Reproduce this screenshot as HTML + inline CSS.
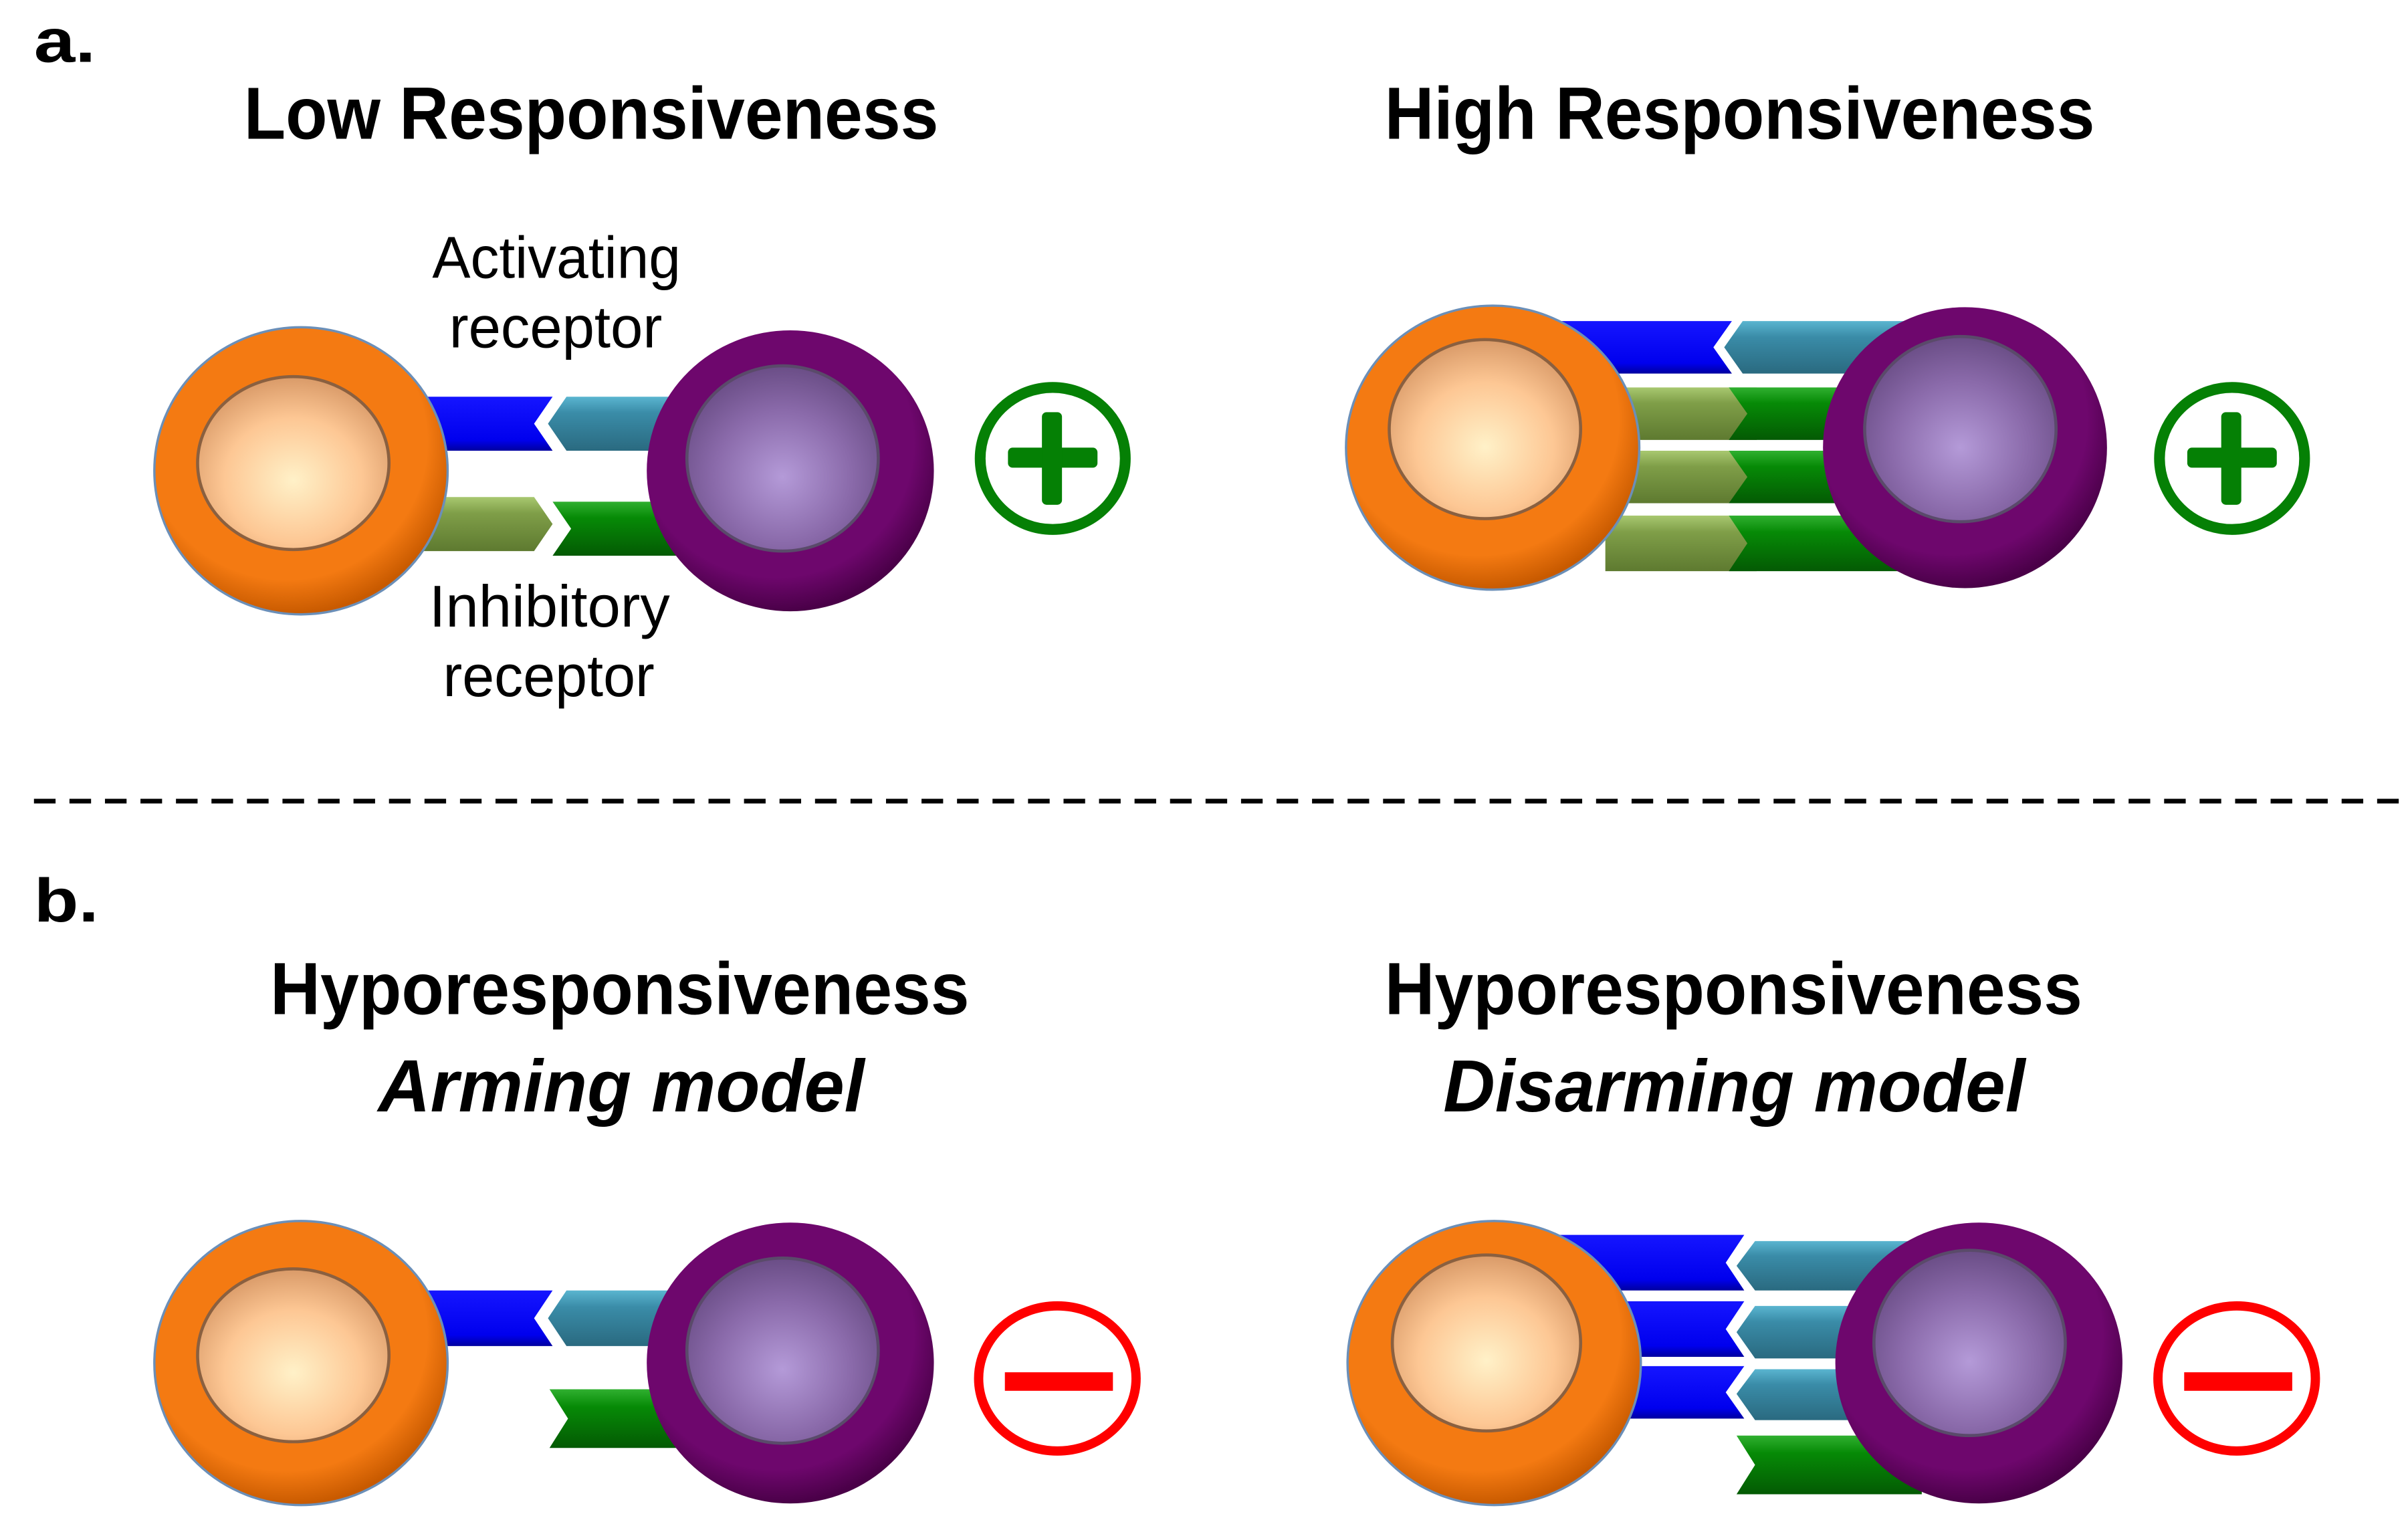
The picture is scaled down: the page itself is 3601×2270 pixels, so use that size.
<!DOCTYPE html>
<html><head><meta charset="utf-8"><style>html,body{margin:0;padding:0;background:#fff}svg{display:block}</style></head>
<body>
<svg width="3601" height="2270" viewBox="0 0 1560 983.4" preserveAspectRatio="none" xmlns="http://www.w3.org/2000/svg">
<defs>
<radialGradient id="og" cx="0.45" cy="0.4" r="0.6"><stop offset="0.8" stop-color="#f47a12"/><stop offset="1" stop-color="#c85a00"/></radialGradient>
<radialGradient id="oi" cx="0.5" cy="0.6" r="0.6"><stop offset="0" stop-color="#fff1c8"/><stop offset="0.6" stop-color="#fdc794"/><stop offset="1" stop-color="#d99a68"/></radialGradient>
<radialGradient id="pg" cx="0.45" cy="0.4" r="0.6"><stop offset="0.8" stop-color="#6e076d"/><stop offset="1" stop-color="#4a0048"/></radialGradient>
<radialGradient id="pi" cx="0.5" cy="0.6" r="0.6"><stop offset="0" stop-color="#b49ad8"/><stop offset="0.6" stop-color="#8a6aaa"/><stop offset="1" stop-color="#6a4d86"/></radialGradient>
<linearGradient id="bl" x1="0" y1="0" x2="0" y2="1"><stop offset="0" stop-color="#1515ff"/><stop offset="0.8" stop-color="#0000ee"/><stop offset="1" stop-color="#0000a0"/></linearGradient>
<linearGradient id="cy" x1="0" y1="0" x2="0" y2="1"><stop offset="0" stop-color="#5ab5d0"/><stop offset="0.3" stop-color="#3a8ca8"/><stop offset="1" stop-color="#2a6a80"/></linearGradient>
<linearGradient id="ol" x1="0" y1="0" x2="0" y2="1"><stop offset="0" stop-color="#a8c870"/><stop offset="0.3" stop-color="#7f9e48"/><stop offset="1" stop-color="#5e7a30"/></linearGradient>
<linearGradient id="gr" x1="0" y1="0" x2="0" y2="1"><stop offset="0" stop-color="#30b030"/><stop offset="0.3" stop-color="#068a06"/><stop offset="1" stop-color="#045a04"/></linearGradient>
</defs>
<g font-family="'Liberation Sans', sans-serif" fill="#000">
<text x="22" y="40" font-size="40" font-weight="bold" textLength="40" lengthAdjust="spacingAndGlyphs">a.</text>
<text x="22" y="597" font-size="40" font-weight="bold" textLength="42" lengthAdjust="spacingAndGlyphs">b.</text>
<text x="158" y="90" font-size="48" font-weight="bold" textLength="450" lengthAdjust="spacingAndGlyphs">Low Responsiveness</text>
<text x="897" y="90" font-size="48" font-weight="bold" textLength="460" lengthAdjust="spacingAndGlyphs">High Responsiveness</text>
<text x="175" y="657" font-size="48" font-weight="bold" textLength="453" lengthAdjust="spacingAndGlyphs">Hyporesponsiveness</text>
<text x="897" y="657" font-size="48" font-weight="bold" textLength="452" lengthAdjust="spacingAndGlyphs">Hyporesponsiveness</text>
<text x="245" y="720" font-size="48" font-weight="bold" font-style="italic" textLength="315" lengthAdjust="spacingAndGlyphs">Arming model</text>
<text x="935" y="720" font-size="48" font-weight="bold" font-style="italic" textLength="377" lengthAdjust="spacingAndGlyphs">Disarming model</text>
<text x="280" y="180" font-size="38" textLength="161" lengthAdjust="spacingAndGlyphs">Activating</text>
<text x="291" y="225" font-size="38" textLength="138" lengthAdjust="spacingAndGlyphs">receptor</text>
<text x="278" y="406" font-size="38" textLength="156" lengthAdjust="spacingAndGlyphs">Inhibitory</text>
<text x="287" y="451" font-size="38" textLength="137" lengthAdjust="spacingAndGlyphs">receptor</text>
</g>
<line x1="22" y1="519" x2="1556" y2="519" stroke="#000" stroke-width="3" stroke-dasharray="14,9"/>

<!-- Panel a left -->
<polygon points="270,257 358,257 346,274.5 358,292 270,292" fill="url(#bl)"/>
<polygon points="367,257 440,257 440,292 367,292 355,274.5" fill="url(#cy)"/>
<polygon points="270,322 346,322 358,339.5 346,357 270,357" fill="url(#ol)"/>
<polygon points="358,325 440,325 440,360 358,360 370,342.5" fill="url(#gr)"/>
<ellipse cx="195" cy="305" rx="95" ry="93" fill="url(#og)" stroke="#6b8fb8" stroke-width="1.5"/>
<ellipse cx="190" cy="300" rx="62" ry="56" fill="url(#oi)" stroke="#8a6040" stroke-width="2"/>
<ellipse cx="512" cy="305" rx="93" ry="91" fill="url(#pg)"/>
<ellipse cx="507" cy="297" rx="62" ry="60" fill="url(#pi)" stroke="#5a4a6a" stroke-width="2"/>
<ellipse cx="682" cy="297" rx="47" ry="46" fill="none" stroke="#058005" stroke-width="7"/>
<rect x="653" y="290" width="58" height="13" rx="3" fill="#058005"/>
<rect x="675" y="267" width="13" height="60" rx="3" fill="#058005"/>

<!-- Panel a right -->
<polygon points="1000,208 1122,208 1110,225 1122,242 1000,242" fill="url(#bl)"/>
<polygon points="1129,208 1245,208 1245,242 1129,242 1117,225" fill="url(#cy)"/>
<polygon points="1040,251 1138,251 1150,268 1138,285 1040,285" fill="url(#ol)"/>
<polygon points="1040,292 1138,292 1150,309 1138,326 1040,326" fill="url(#ol)"/>
<polygon points="1040,334 1138,334 1150,352 1138,370 1040,370" fill="url(#ol)"/>
<polygon points="1120,251 1240,251 1240,285 1120,285 1132,268" fill="url(#gr)"/>
<polygon points="1120,292 1240,292 1240,326 1120,326 1132,309" fill="url(#gr)"/>
<polygon points="1120,334 1240,334 1240,370 1120,370 1132,352" fill="url(#gr)"/>
<ellipse cx="967" cy="290" rx="95" ry="92" fill="url(#og)" stroke="#6b8fb8" stroke-width="1.5"/>
<ellipse cx="962" cy="278" rx="62" ry="58" fill="url(#oi)" stroke="#8a6040" stroke-width="2"/>
<ellipse cx="1273" cy="290" rx="92" ry="91" fill="url(#pg)"/>
<ellipse cx="1270" cy="278" rx="62" ry="60" fill="url(#pi)" stroke="#5a4a6a" stroke-width="2"/>
<ellipse cx="1446" cy="297" rx="47" ry="46" fill="none" stroke="#058005" stroke-width="7"/>
<rect x="1417" y="290" width="58" height="13" rx="3" fill="#058005"/>
<rect x="1439" y="267" width="13" height="60" rx="3" fill="#058005"/>

<!-- Panel b left -->
<polygon points="270,836 358,836 346,854 358,872 270,872" fill="url(#bl)"/>
<polygon points="367,836 440,836 440,872 367,872 355,854" fill="url(#cy)"/>
<polygon points="356,900 440,900 440,938 356,938 368,919" fill="url(#gr)"/>
<ellipse cx="195" cy="883" rx="95" ry="92" fill="url(#og)" stroke="#6b8fb8" stroke-width="1.5"/>
<ellipse cx="190" cy="878" rx="62" ry="56" fill="url(#oi)" stroke="#8a6040" stroke-width="2"/>
<ellipse cx="512" cy="883" rx="93" ry="91" fill="url(#pg)"/>
<ellipse cx="507" cy="875" rx="62" ry="60" fill="url(#pi)" stroke="#5a4a6a" stroke-width="2"/>
<ellipse cx="685" cy="893" rx="51" ry="47" fill="none" stroke="#ff0000" stroke-width="6"/>
<rect x="651" y="889" width="70" height="12" fill="#ff0000"/>

<!-- Panel b right -->
<polygon points="1000,800 1130,800 1118,818 1130,836 1000,836" fill="url(#bl)"/>
<polygon points="1000,843 1130,843 1118,861 1130,879 1000,879" fill="url(#bl)"/>
<polygon points="1000,885 1130,885 1118,902 1130,919 1000,919" fill="url(#bl)"/>
<polygon points="1137,804 1245,804 1245,836 1137,836 1125,820" fill="url(#cy)"/>
<polygon points="1137,846 1245,846 1245,880 1137,880 1125,863" fill="url(#cy)"/>
<polygon points="1137,887 1245,887 1245,920 1137,920 1125,903" fill="url(#cy)"/>
<polygon points="1125,930 1245,930 1245,968 1125,968 1137,949" fill="url(#gr)"/>
<ellipse cx="968" cy="883" rx="95" ry="92" fill="url(#og)" stroke="#6b8fb8" stroke-width="1.5"/>
<ellipse cx="963" cy="870" rx="61" ry="57" fill="url(#oi)" stroke="#8a6040" stroke-width="2"/>
<ellipse cx="1282" cy="883" rx="93" ry="91" fill="url(#pg)"/>
<ellipse cx="1276" cy="870" rx="62" ry="60" fill="url(#pi)" stroke="#5a4a6a" stroke-width="2"/>
<ellipse cx="1449" cy="893" rx="51" ry="47" fill="none" stroke="#ff0000" stroke-width="6"/>
<rect x="1415" y="889" width="70" height="12" fill="#ff0000"/>
</svg>
</body></html>
